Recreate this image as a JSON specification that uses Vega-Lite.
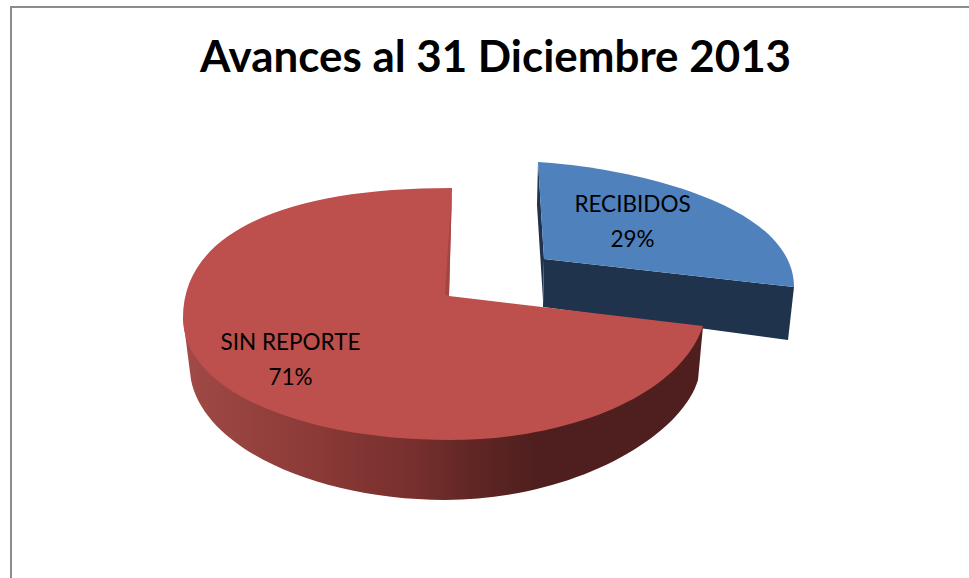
{
  "$schema": "https://vega.github.io/schema/vega-lite/v6.json",
  "width": 969,
  "height": 578,
  "padding": 0,
  "autosize": "none",
  "background": "white",
  "title": {"text": "Avances al 31 Diciembre 2013", "font": "Lato", "fontWeight": "bold", "fontSize": 43.9, "color": "#000000", "anchor": "middle", "baseline": "alphabetic", "offset": 0, "dx": 11, "dy": 116},
  "data": {"values": [
    {"categoria": "RECIBIDOS", "porcentaje": 0.29},
    {"categoria": "SIN REPORTE", "porcentaje": 0.71}
  ]},
  "config": {"view": {"stroke": null}},
  "layer": [
    {"transform": [{"filter": "datum.categoria === 'RECIBIDOS'"}],
     "mark": {"type": "point", "filled": false, "opacity": 1, "size": 4, "stroke": "#8c8c8c", "strokeWidth": 2, "shape": "M-473.5,289 L-473.5,-282 L484.5,-282"}},
    {"transform": [{"filter": "datum.categoria === 'RECIBIDOS'"}],
     "mark": {"type": "point", "filled": true, "opacity": 1, "size": 4, "fill": "#1f334d", "shape": "M59.5,-30 L309.5,-2 L303.5,51 L58.5,18 Z"}},
    {"transform": [{"filter": "datum.categoria === 'RECIBIDOS'"}],
     "mark": {"type": "point", "filled": true, "opacity": 1, "size": 4, "fill": "#1f334d", "shape": "M53.5,-127 L52.5,-84 L58.5,11 L59.5,-30 Z"}},
    {"transform": [{"filter": "datum.categoria === 'SIN REPORTE'"}],
     "mark": {"type": "point", "filled": true, "opacity": 1, "size": 4,
       "fill": {"gradient": "linear", "x1": 0, "y1": 0, "x2": 1, "y2": 0, "stops": [
         {"offset": 0, "color": "#a14a47"},
         {"offset": 0.25, "color": "#8b3a37"},
         {"offset": 0.45, "color": "#762f2d"},
         {"offset": 0.55, "color": "#622725"},
         {"offset": 0.68, "color": "#4e1f1e"},
         {"offset": 1, "color": "#4e1f1e"}
       ]},
       "shape": "M-301.5,29 L-293.5,91 C-279.5,161 -164.5,211 -39.5,211 C85.5,211 195.5,150 213.5,91 L218.5,37 L-35,20 Z"}},
    {"mark": {"type": "point", "filled": true, "opacity": 1, "size": 4},
     "encoding": {
       "shape": {"field": "categoria", "type": "nominal", "legend": null, "scale": {
         "domain": ["RECIBIDOS", "SIN REPORTE"],
         "range": [
           "M53.5,-127 C150.5,-121 309.5,-84 309.5,-2 L59.5,-30 Z",
           "M-32.5,-100 L-35.5,7 L218.5,37 C195.5,106 85.5,151 -34.5,151 C-184.5,151 -301.5,101 -301.5,29 C-301.5,-57 -199.5,-101 -32.5,-101 Z"
         ]}},
       "color": {"field": "categoria", "type": "nominal", "legend": null, "scale": {
         "domain": ["RECIBIDOS", "SIN REPORTE"],
         "range": ["#4f81bd", "#bd4f4c"]}}
     }},
    {"transform": [{"filter": "datum.categoria === 'SIN REPORTE'"}],
     "mark": {"type": "point", "filled": true, "opacity": 1, "size": 4, "fill": "#a34542", "shape": "M-32.5,-100 L-39.5,5 L-35.5,7 Z"}},
    {"transform": [{"filter": "datum.categoria === 'RECIBIDOS'"}],
     "mark": {"type": "text", "font": "Lato", "fontSize": 22.5, "color": "#000000", "align": "center", "baseline": "alphabetic", "dx": 148, "dy": -77},
     "encoding": {"text": {"field": "categoria", "type": "nominal"}}},
    {"transform": [{"filter": "datum.categoria === 'RECIBIDOS'"}],
     "mark": {"type": "text", "font": "Lato", "fontSize": 22.5, "color": "#000000", "align": "center", "baseline": "alphabetic", "dx": 148, "dy": -42},
     "encoding": {"text": {"field": "porcentaje", "type": "quantitative", "format": ".0%"}}},
    {"transform": [{"filter": "datum.categoria === 'SIN REPORTE'"}],
     "mark": {"type": "text", "font": "Lato", "fontSize": 22.5, "color": "#000000", "align": "center", "baseline": "alphabetic", "dx": -194, "dy": 61},
     "encoding": {"text": {"field": "categoria", "type": "nominal"}}},
    {"transform": [{"filter": "datum.categoria === 'SIN REPORTE'"}],
     "mark": {"type": "text", "font": "Lato", "fontSize": 22.5, "color": "#000000", "align": "center", "baseline": "alphabetic", "dx": -194, "dy": 96},
     "encoding": {"text": {"field": "porcentaje", "type": "quantitative", "format": ".0%"}}}
  ]
}
